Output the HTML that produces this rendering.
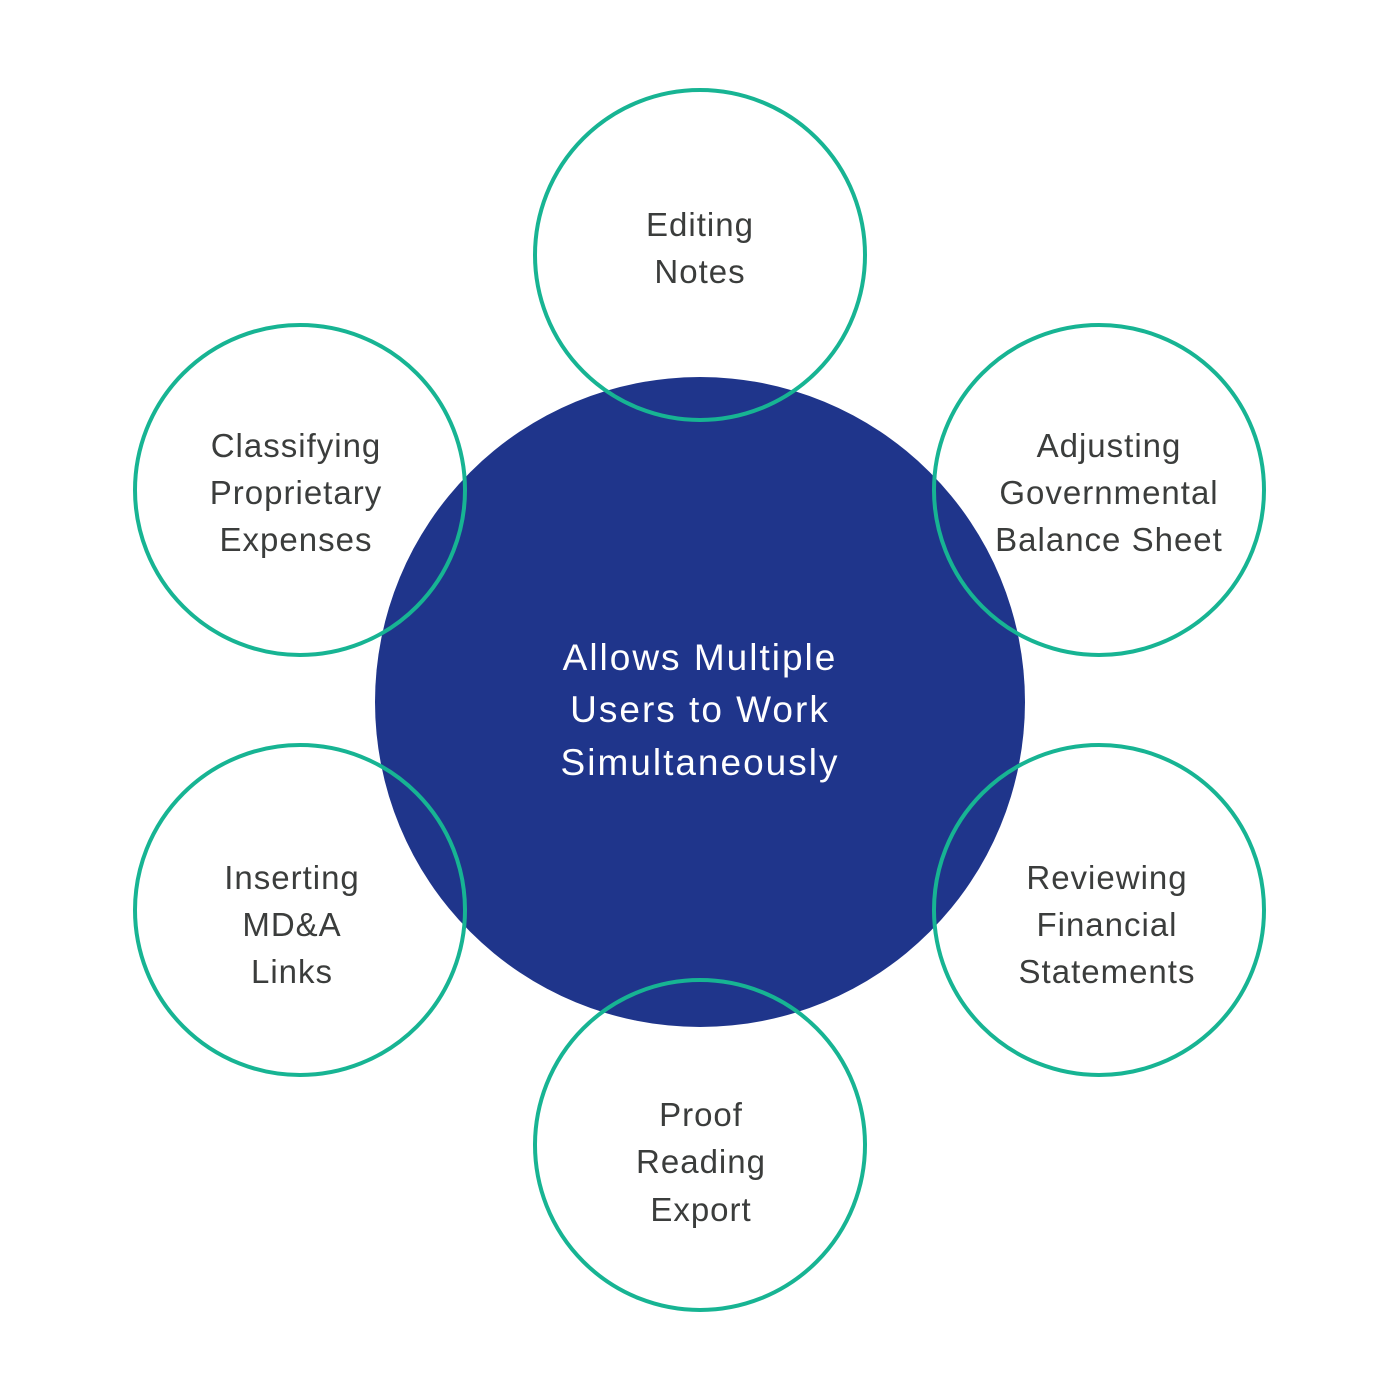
<!DOCTYPE html>
<html><head><meta charset="utf-8"><style>
html,body{margin:0;padding:0;background:#fff;}
svg{display:block}
text{font-family:"Liberation Sans",sans-serif;}
</style></head><body>
<svg width="1400" height="1400" viewBox="0 0 1400 1400" xmlns="http://www.w3.org/2000/svg">
<rect width="1400" height="1400" fill="#fff"/>
<circle cx="700" cy="702" r="325" fill="#1f358b"/>
<g fill="none" stroke="#17b493" stroke-width="4">
<circle cx="700" cy="255" r="165"/>
<circle cx="300" cy="490" r="165"/>
<circle cx="1099" cy="490" r="165"/>
<circle cx="300" cy="910" r="165"/>
<circle cx="1099" cy="910" r="165"/>
<circle cx="700" cy="1145" r="165"/>
</g>
<g fill="#ffffff" font-size="37" letter-spacing="2" text-anchor="middle">
<text x="700" y="670">Allows Multiple</text>
<text x="700" y="722">Users to Work</text>
<text x="700" y="775">Simultaneously</text>
</g>
<g fill="#3b3d3c" font-size="33" letter-spacing="1" text-anchor="middle">
<text x="700" y="236">Editing</text>
<text x="700" y="283">Notes</text>
<text x="296" y="457">Classifying</text>
<text x="296" y="504">Proprietary</text>
<text x="296" y="551">Expenses</text>
<text x="1109" y="457">Adjusting</text>
<text x="1109" y="504">Governmental</text>
<text x="1109" y="551">Balance Sheet</text>
<text x="292" y="889">Inserting</text>
<text x="292" y="936">MD&amp;A</text>
<text x="292" y="983">Links</text>
<text x="1107" y="889">Reviewing</text>
<text x="1107" y="936">Financial</text>
<text x="1107" y="983">Statements</text>
<text x="701" y="1126">Proof</text>
<text x="701" y="1173">Reading</text>
<text x="701" y="1221">Export</text>
</g>
</svg>
</body></html>
